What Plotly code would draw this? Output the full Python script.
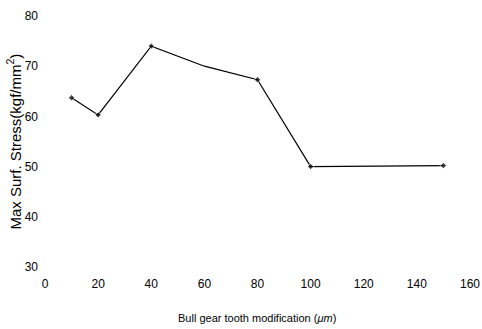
import plotly.graph_objects as go

modification_um = [10, 20, 40, 60, 80, 100, 150]
max_stress = [63.7, 60.3, 74.0, 70.0, 67.3, 50.0, 50.2]
marker_sizes = [5, 5, 5, 0, 5, 5, 5]

x_ticks = [0, 20, 40, 60, 80, 100, 120, 140, 160]
y_ticks = [30, 40, 50, 60, 70, 80]

font_family = "Liberation Sans Narrow, Arial Narrow, Liberation Sans, Arial, sans-serif"

fig = go.Figure()
fig.add_trace(go.Scatter(
    x=modification_um, y=max_stress, mode="lines+markers",
    line=dict(color="black", width=1.2),
    marker=dict(color="black", size=marker_sizes, symbol="diamond"),
    showlegend=False,
))

fig.update_layout(
    width=482, height=329,
    margin=dict(l=45, r=12, t=16, b=62),
    paper_bgcolor="white", plot_bgcolor="white",
    font=dict(family=font_family, size=12, color="black"),
    annotations=[
        dict(text="Bull gear tooth modification (<i>μm</i>)", xref="paper", yref="paper",
             x=0.499, y=0, yshift=-51, showarrow=False, font=dict(size=11),
             xanchor="center", yanchor="middle"),
        dict(text="Max Surf. Stress(kgf/mm<sup>2</sup>)", xref="paper", yref="paper",
             x=0, y=0.5, xshift=-31, yshift=0, showarrow=False, textangle=-90,
             font=dict(size=15), xanchor="center", yanchor="middle"),
    ],
)
fig.update_xaxes(
    range=[0, 160], tickvals=x_ticks, ticktext=[str(v) for v in x_ticks],
    showline=False, showgrid=False, zeroline=False, ticks="",
    ticklabelstandoff=8, automargin=False,
)
fig.update_yaxes(
    range=[30, 80], tickvals=y_ticks, ticktext=[str(v) for v in y_ticks],
    showline=False, showgrid=False, zeroline=False, ticks="",
    ticklabelstandoff=6, automargin=False,
)

fig.write_html("out.html", post_script="document.body.style.margin='0';",
               config={"displayModeBar": False})
